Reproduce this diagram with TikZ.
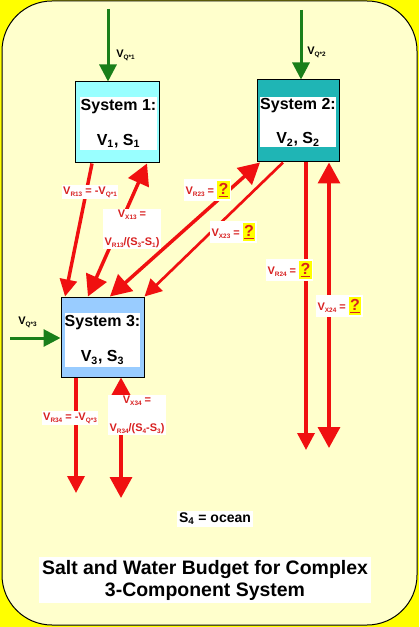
\documentclass[tikz,border=0pt]{standalone}
\usepackage{fontspec}
\setmainfont{Liberation Sans}
\usetikzlibrary{arrows.meta}

\definecolor{bgyellow}{HTML}{FFFF00}
\definecolor{paleyellow}{HTML}{FFFFCC}
\definecolor{sysone}{HTML}{99FFFF}
\definecolor{systwo}{HTML}{1FB5B5}
\definecolor{systhree}{HTML}{99CCFF}
\definecolor{flowgreen}{HTML}{1A7F1A}
\definecolor{flowred}{HTML}{F01010}
\definecolor{lblred}{HTML}{D82020}

\newcommand\lowtxt[1]{\raisebox{-0.3ex}{\fontsize{4.8}{5}\selectfont #1}}
\newcommand\qmark{{\setlength\fboxsep{1pt}\colorbox{bgyellow}{\fontsize{12}{12}\selectfont\rule[-2.5pt]{0pt}{12pt}\underline{?}}}}

\begin{document}
\begin{tikzpicture}[x=0.75pt, y=-0.75pt,
    systext/.style={fill=white, inner sep=0pt, align=center, font=\bfseries\fontsize{12}{14}\selectfont},
    inflow/.style={draw=flowgreen, line width=2.25pt, -{Triangle[length=12.75pt,width=12.75pt]}},
    flowarrow/.style={draw=flowred, line width=2.6pt, -{Triangle[length=12.75pt,width=12.75pt]}},
    xchgarrow/.style={draw=flowred, line width=2.6pt, {Triangle[length=15.75pt,width=16.5pt]}-{Triangle[length=15.75pt,width=16.5pt]}},
    redlbl/.style={fill=white, text=lblred, inner sep=1pt, font=\bfseries\fontsize{8.25}{10}\selectfont},
    grnlbl/.style={inner sep=0pt, font=\bfseries\fontsize{8.25}{10}\selectfont}]
	\useasboundingbox (0,0) rectangle (419,627);
	\fill [bgyellow] (0,0) rectangle (419,627);
	\draw [fill=paleyellow, line width=0.75pt, rounded corners=37.5pt] (2,1) rectangle (417,625);

	% the three systems
	\node [draw, fill=sysone, line width=0.75pt, minimum width=63pt, minimum height=60.75pt] (sys1) at (117,122.5) {};
	\node [systext, minimum width=57.75pt, minimum height=39.75pt] (txt1) at (118.5,123.5) {System 1:\\[12pt]V\textsubscript{1}, S\textsubscript{1}};
	\node [draw, fill=systwo, line width=0.75pt, minimum width=61.5pt, minimum height=61.5pt] (sys2) at (298,121) {};
	\node [systext, minimum width=52.5pt, minimum height=37.5pt] (txt2) at (298,122) {System 2:\\[12pt]V\textsubscript{2}, S\textsubscript{2}};
	\node [draw, fill=systhree, line width=0.75pt, minimum width=62.25pt, minimum height=60pt] (sys3) at (102.5,337) {};
	\node [systext, minimum width=51.75pt, minimum height=40.5pt] (txt3) at (102.5,340) {System 3:\\[12pt]V\textsubscript{3}, S\textsubscript{3}};

	% inflows
	\coordinate (q1) at (108,9);
	\coordinate (q2) at (301,10);
	\coordinate (q3) at (10,338);
	\draw [inflow] (q1) -- (q1 |- sys1.north);
	\draw [inflow] (q2) -- (q2 |- sys2.north);
	\draw [inflow] (q3) -- (q3 -| sys3.west);
	\node [grnlbl, anchor=west] (lq1) at (116,55) {V\lowtxt{Q*1}};
	\node [grnlbl, anchor=west] (lq2) at (307,52) {V\lowtxt{Q*2}};
	\node [grnlbl, anchor=west] (lq3) at (18,322) {V\lowtxt{Q*3}};

	% flows between the systems
	\draw [flowarrow] ([xshift=-18.75pt]sys1.south) -- ([xshift=-28.1pt]sys3.north);
	\draw [xchgarrow] ([xshift=-10.9pt]sys3.north) -- ([xshift=22.5pt]sys1.south);
	\draw [xchgarrow] ([xshift=5.6pt]sys3.north) -- ([xshift=-28.5pt]sys2.south);
	\draw [flowarrow, line width=2pt] ([xshift=-11.25pt]sys2.south) -- (sys3.north east);

	% flows to the ocean
	\coordinate (r24) at (306,450);
	\coordinate (x24) at (329,448);
	\coordinate (r34) at (76,493);
	\coordinate (x34) at (121,498);
	\draw [flowarrow] (r24 |- sys2.south) -- (r24);
	\draw [xchgarrow] (x24 |- sys2.south) -- (x24);
	\draw [flowarrow] (r34 |- sys3.south) -- (r34);
	\draw [xchgarrow] (x34 |- sys3.south) -- (x34);

	\node [redlbl] (lr13) at (90,192) {V\lowtxt{R13} = -V\lowtxt{Q*1}};
	\node [redlbl, align=center] (lx13) at (132,229) {V\lowtxt{X13} =\\[11pt]V\lowtxt{R13}/(S\lowtxt{3}-S\lowtxt{1})};
	\node [redlbl, anchor=west] (lr23) at (184,190) {V\lowtxt{R23} = \qmark};
	\node [redlbl, anchor=west] (lx23) at (210,232) {V\lowtxt{X23} = \qmark};
	\node [redlbl, anchor=west] (lr24) at (266,270) {V\lowtxt{R24} = \qmark};
	\node [redlbl, anchor=west] (lx24) at (316,306) {V\lowtxt{X24} = \qmark};
	\node [redlbl] (lr34) at (70,418) {V\lowtxt{R34} = -V\lowtxt{Q*3}};
	\node [redlbl, align=center] (lx34) at (137,415) {V\lowtxt{X34} =\\[11pt]V\lowtxt{R34}/(S\lowtxt{4}-S\lowtxt{3})};

	\node [fill=white, inner sep=1.5pt, font=\bfseries\fontsize{10.5}{12}\selectfont] (ocean) at (215,519) {S\textsubscript{4} = ocean};
	\node [fill=white, align=center, inner sep=2pt, font=\bfseries\fontsize{14.6}{16.5}\selectfont] (title) at (205,580) {Salt and Water Budget for Complex\\3-Component System};
\end{tikzpicture}
\end{document}
